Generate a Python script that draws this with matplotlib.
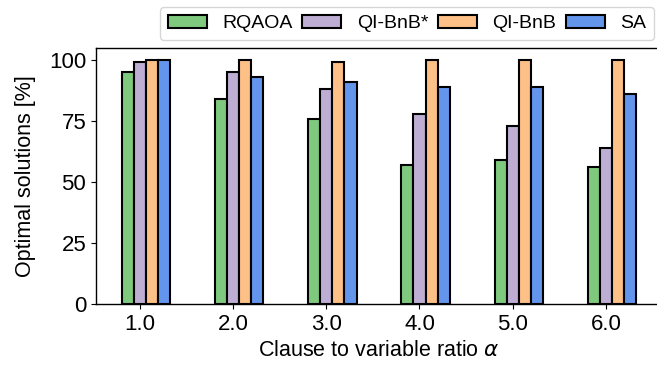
import matplotlib
matplotlib.use("Agg")
import matplotlib.pyplot as plt
import numpy as np

ALPHAS = [1.0, 2.0, 3.0, 4.0, 5.0, 6.0]
RQAOA = [95, 84, 76, 57, 59, 56]
QI_BNB_STAR = [99, 95, 88, 78, 73, 64]
QI_BNB = [100, 100, 99, 100, 100, 100]
SA = [100, 93, 91, 89, 89, 86]

SERIES = [
    ("RQAOA", RQAOA, "#7fc97f"),
    ("QI-BnB*", QI_BNB_STAR, "#beaed4"),
    ("QI-BnB", QI_BNB, "#fdc086"),
    ("SA", SA, "#6495ed"),
]

plt.rcParams["font.family"] = ["Liberation Sans", "DejaVu Sans"]
plt.rcParams["font.size"] = 16

fig = plt.figure(figsize=(6.57, 3.66), dpi=100)
# axes runs slightly past the right edge of the figure, like the cropped original
ax = fig.add_axes([0.146, 0.169, 0.8615, 0.7003])

x = np.array(ALPHAS)
w = 0.13
for i, (name, vals, color) in enumerate(SERIES):
    ax.bar(x + (i - 1) * w, vals, width=w, color=color, edgecolor="black",
           linewidth=1.5, label=name)

ax.set_xticks(x, [f"{a:.1f}" for a in ALPHAS])
ax.set_yticks([0, 25, 50, 75, 100])
ax.tick_params(labelsize=16)
ax.set_xlabel(r"Clause to variable ratio $\alpha$", fontsize=15.5)
ax.set_ylabel("Optimal solutions [%]", fontsize=15.5, labelpad=9)
for s in ax.spines.values():
    s.set_linewidth(1.0)

ax.legend(loc="lower right", bbox_to_anchor=(1.0, 1.0), ncols=4, fontsize=14,
          columnspacing=0.5, borderaxespad=0.4)

fig.savefig("out.png", dpi=100)
